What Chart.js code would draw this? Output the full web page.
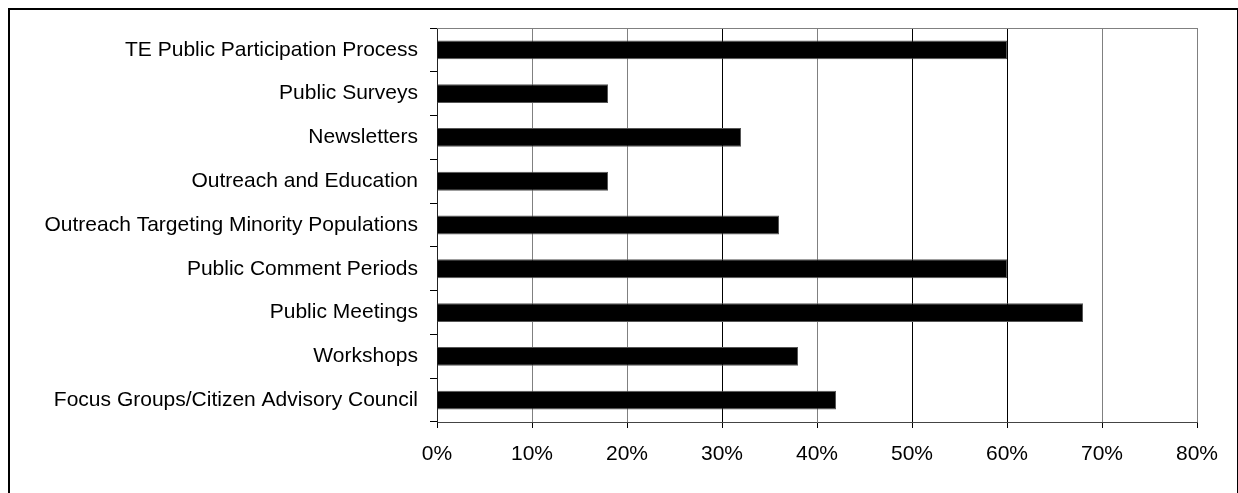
<!DOCTYPE html>
<html>
<head>
<meta charset="utf-8">
<script src="https://cdn.jsdelivr.net/npm/chart.js@4"></script>
<style>
  html, body { margin: 0; padding: 0; background: #fff; }
  #frame { position: absolute; left: 8px; top: 8px; width: 1227px; height: 600px; border: 2px solid #000; }
  #wrap { position: absolute; left: 0; top: 0; width: 1238px; height: 493px; }
</style>
</head>
<body>
<div id="frame"></div>
<div id="wrap"><canvas id="barChart"></canvas></div>
<script>
const categories = [
  'TE Public Participation Process',
  'Public Surveys',
  'Newsletters',
  'Outreach and Education',
  'Outreach Targeting Minority Populations',
  'Public Comment Periods',
  'Public Meetings',
  'Workshops',
  'Focus Groups/Citizen Advisory Council'
];
const percentValues = [60, 18, 32, 18, 36, 60, 68, 38, 42];
const tickLabels = ['0%', '10%', '20%', '30%', '40%', '50%', '60%', '70%', '80%'];

// warna garis grid seperti di gambar asli (ada yang hitam, ada yang abu)
const gridColors = ['#808080', '#808080', '#808080', '#000', '#808080', '#000', '#000', '#808080', '#808080'];

// garis tepi plot area (atas & kanan abu-abu)
const plotBorder = {
  id: 'plotBorder',
  beforeDatasetsDraw(chart) {
    const { ctx, chartArea: a } = chart;
    ctx.save();
    ctx.strokeStyle = '#808080';
    ctx.lineWidth = 1;
    ctx.beginPath();
    ctx.moveTo(a.left, a.top + 0.5);
    ctx.lineTo(a.right + 0.5, a.top + 0.5);
    ctx.lineTo(a.right + 0.5, a.bottom);
    ctx.stroke();
    ctx.restore();
  }
};

new Chart(document.getElementById('barChart'), {
  type: 'bar',
  data: {
    labels: categories,
    datasets: [{
      data: percentValues,
      backgroundColor: '#000',
      borderColor: '#555',
      borderWidth: 1,
      barPercentage: 0.43,
      categoryPercentage: 1
    }]
  },
  options: {
    indexAxis: 'y',
    responsive: true,
    maintainAspectRatio: false,
    animation: false,
    layout: { padding: { top: 28, right: 41, left: 0, bottom: 0 } },
    plugins: {
      legend: { display: false },
      tooltip: { enabled: false }
    },
    scales: {
      x: {
        min: 0,
        max: 80,
        ticks: {
          stepSize: 10,
          color: '#000',
          font: { family: 'Liberation Sans, Arial, sans-serif', size: 21 },
          padding: 14,
          callback: (v, i) => tickLabels[i]
        },
        grid: {
          color: ctx => gridColors[ctx.index] || '#808080',
          tickLength: 6,
          tickColor: '#000'
        },
        border: { color: '#444', width: 1 },
        afterFit: s => { s.height = 71; }
      },
      y: {
        ticks: {
          color: '#000',
          font: { family: 'Liberation Sans, Arial, sans-serif', size: 21 },
          padding: 12,
          autoSkip: false
        },
        grid: {
          offset: true,
          drawOnChartArea: false,
          tickLength: 7,
          tickColor: '#000'
        },
        border: { color: '#222', width: 1 },
        afterFit: s => { s.width = 437; }
      }
    }
  },
  plugins: [plotBorder]
});
</script>
</body>
</html>
